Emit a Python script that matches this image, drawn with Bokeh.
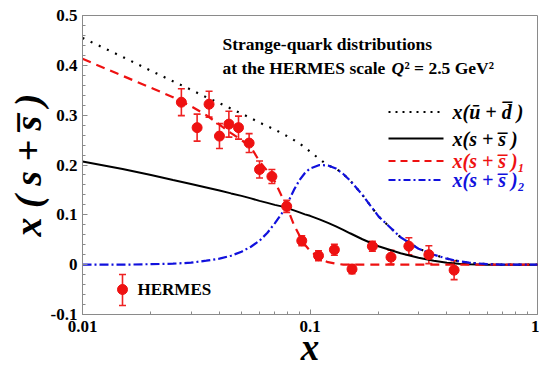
from bokeh.plotting import figure
from bokeh.models import (ColumnDataSource, Label, Whisker, TeeHead, FixedTicker,
                          Range1d)
from bokeh.embed import file_html
from bokeh.resources import INLINE
import math

# ---- model curves: x(ubar+dbar), x(s+sbar) and its two components ----
x_curve = [0.01, 0.015, 0.02, 0.025, 0.03, 0.035, 0.04, 0.045, 0.05, 0.055,
           0.06, 0.065, 0.07, 0.075, 0.08, 0.085, 0.09, 0.095, 0.1, 0.11,
           0.12, 0.13, 0.14, 0.15, 0.17, 0.2, 0.25, 0.3, 0.35, 0.4, 0.45,
           0.5, 0.6, 0.7, 0.8, 1.0]
ubar_dbar = [0.455, 0.417, 0.389, 0.368, 0.351, 0.336, 0.324, 0.313, 0.303, 0.294,
             0.285, 0.278, 0.271, 0.264, 0.257, 0.250, 0.243, 0.235, 0.227, 0.212,
             0.199, 0.193, 0.182, 0.169, 0.140, 0.097, 0.055, 0.032, 0.020, 0.012, 0.007,
             0.004, 0.001, 0.0, 0.0, 0.0]
s_total = [0.207, 0.192, 0.180, 0.170, 0.162, 0.155, 0.149, 0.143, 0.138, 0.133,
           0.128, 0.124, 0.120, 0.117, 0.113, 0.109, 0.105, 0.101, 0.098, 0.091,
           0.084, 0.077, 0.070, 0.063, 0.051, 0.037, 0.023, 0.014, 0.008, 0.004, 0.002,
           0.001, 0.0, 0.0, 0.0, 0.0]
s_comp1 = [0.413, 0.379, 0.355, 0.336, 0.318, 0.300, 0.281, 0.264, 0.250, 0.236,
           0.207, 0.188, 0.167, 0.138, 0.110, 0.080, 0.058, 0.040, 0.028, 0.013,
           0.005, 0.002, 0.0, 0.0, 0.0, 0.0, 0.0, 0.0, 0.0, 0.0, 0.0,
           0.0, 0.0, 0.0, 0.0, 0.0]
s_comp2 = [0.0, 0.0, 0.001, 0.002, 0.004, 0.008, 0.012, 0.018, 0.026, 0.036,
           0.048, 0.064, 0.083, 0.102, 0.125, 0.150, 0.170, 0.184, 0.193, 0.200,
           0.199, 0.193, 0.182, 0.169, 0.140, 0.097, 0.055, 0.032, 0.020, 0.012, 0.007,
           0.004, 0.001, 0.0, 0.0, 0.0]

# ---- HERMES data points ----
x_hermes = [0.0272, 0.0319, 0.0360, 0.0400, 0.0440, 0.0485, 0.0540, 0.0600,
            0.0680, 0.0790, 0.0920, 0.1090, 0.1280, 0.1530, 0.1880, 0.2270,
            0.2720, 0.3330, 0.4300]
y_hermes = [0.326, 0.275, 0.322, 0.258, 0.282, 0.275, 0.244, 0.191,
            0.177, 0.117, 0.048, 0.018, 0.030, -0.009, 0.037, 0.015,
            0.037, 0.020, -0.011]
err_hermes = [0.027, 0.027, 0.026, 0.025, 0.026, 0.023, 0.019, 0.017,
              0.014, 0.012, 0.010, 0.010, 0.011, 0.009, 0.010, 0.014,
              0.017, 0.018, 0.019]

y_ticks = [-0.1, 0.0, 0.1, 0.2, 0.3, 0.4, 0.5]
y_tick_labels = {-0.1: "-0.1", 0.0: "0", 0.1: "0.1", 0.2: "0.2",
                 0.3: "0.3", 0.4: "0.4", 0.5: "0.5"}
x_ticks = [0.01, 0.1, 1.0]
x_tick_labels = {0.01: "0.01", 0.1: "0.1", 1: "1"}

W, H = 539, 372
LEFT, RIGHT, TOP, BOTTOM = 82, 2, 15, 58
X0, X1, Y0, Y1 = 0.01, 1.0, -0.1, 0.5

SERIF = "Liberation Serif"
GRAY = "#8a8a8a"
RED = "#ee1111"
BLUE = "#1111dd"

p = figure(width=W, height=H, x_axis_type="log",
           x_range=Range1d(X0, X1), y_range=Range1d(Y0, Y1),
           output_backend="svg", toolbar_location=None,
           min_border_left=LEFT, min_border_right=RIGHT,
           min_border_top=TOP, min_border_bottom=BOTTOM)
p.xgrid.visible = False
p.ygrid.visible = False
p.outline_line_color = GRAY
p.outline_line_width = 1
p.background_fill_color = "white"
p.border_fill_color = "white"

fw = W - LEFT - RIGHT
fh = H - TOP - BOTTOM


def to_data(px, py):
    """Canvas pixel -> data coordinates (log x, linear y)."""
    lx = math.log10(X0) + (px - LEFT) / fw * (math.log10(X1) - math.log10(X0))
    y = Y1 - (py - TOP) / fh * (Y1 - Y0)
    return 10 ** lx, y


def to_screen(px, py):
    """Canvas pixel -> frame-relative screen units used by Label."""
    return px - LEFT, H - BOTTOM - py


# axes
for ax in (p.xaxis[0], p.yaxis[0]):
    ax.axis_line_color = GRAY
    ax.major_tick_line_color = GRAY
    ax.minor_tick_line_color = GRAY
    ax.major_tick_in = 5
    ax.major_tick_out = 0
    ax.minor_tick_in = 3
    ax.minor_tick_out = 0
    ax.major_label_text_font = SERIF
    ax.major_label_text_font_style = "bold"
    ax.major_label_text_font_size = "17px"
    ax.major_label_text_color = "black"
    ax.axis_label_text_font = SERIF
    ax.axis_label_text_font_style = "bold italic"
    ax.axis_label_text_color = "black"

p.yaxis.ticker = FixedTicker(ticks=y_ticks,
                             minor_ticks=[round(-0.1 + 0.02 * i, 2) for i in range(31)])
p.yaxis.major_label_overrides = y_tick_labels
p.yaxis.major_label_standoff = 5
p.yaxis.axis_label = "x ( s + s\u0305 )"
p.yaxis.axis_label_text_font_size = "38px"
p.yaxis.axis_label_standoff = -1

p.xaxis.ticker = FixedTicker(ticks=x_ticks,
                             minor_ticks=[k * 10.0 ** d for d in (-2, -1) for k in range(2, 10)])
p.xaxis.major_label_overrides = x_tick_labels
p.xaxis.major_label_standoff = 6
p.xaxis.axis_label = "x"
p.xaxis.axis_label_text_font_size = "37px"
p.xaxis.axis_label_standoff = -8

# curves
p.line(x_curve, ubar_dbar, line_color="black", line_width=2.2, line_dash="2 7")
p.line(x_curve, s_total, line_color="black", line_width=2)
p.line(x_curve, s_comp1, line_color=RED, line_width=2.2, line_dash="9 6")
p.line(x_curve, s_comp2, line_color=BLUE, line_width=2.2, line_dash="9 3 2 3")

# HERMES points with error bars
src = ColumnDataSource(dict(x=x_hermes, y=y_hermes,
                            lo=[y - e for y, e in zip(y_hermes, err_hermes)],
                            hi=[y + e for y, e in zip(y_hermes, err_hermes)]))


def error_bars(source):
    head = dict(size=7, line_color="#ee2222", line_width=1.6)
    p.add_layout(Whisker(source=source, base="x", lower="lo", upper="hi",
                         line_color="#ee2222", line_width=1.6,
                         lower_head=TeeHead(**head), upper_head=TeeHead(**head)))
    p.scatter("x", "y", source=source, size=10, color=RED)


error_bars(src)

# HERMES legend entry
hx, hy = to_data(122, 289)
_, hy_top = to_data(122, 274)
_, hy_bot = to_data(122, 305)
error_bars(ColumnDataSource(dict(x=[hx], y=[hy], lo=[hy_bot], hi=[hy_top])))
sx, sy = to_screen(137, 289)
p.add_layout(Label(x=sx, y=sy, x_units="screen", y_units="screen", text="HERMES",
                   text_font=SERIF, text_font_style="bold", text_font_size="17px",
                   text_baseline="middle", text_color="black"))

# curve legend
rows = [
    (111.5, "black", "2 5", "x(\u016b + d\u0305 )"),
    (138.0, "black", "solid", "x(s + s\u0305 )"),
    (160.5, RED, "7 5", "x(s + s\u0305 )\u2081"),
    (179.5, BLUE, "7 3 2 3", "x(s + s\u0305 )\u2082"),
]
for py, color, dash, text in rows:
    xa, ya = to_data(388, py)
    xb, _ = to_data(443, py)
    p.line([xa, xb], [ya, ya], line_color=color, line_width=2, line_dash=dash)
    sx, sy = to_screen(452, py)
    p.add_layout(Label(x=sx, y=sy, x_units="screen", y_units="screen", text=text,
                       text_font=SERIF, text_font_style="bold italic",
                       text_font_size="20px", text_baseline="middle",
                       text_color=color))

# title block
TITLE = dict(x_units="screen", y_units="screen", text_font=SERIF,
             text_font_size="17.5px", text_baseline="middle", text_color="black")
sx, sy = to_screen(222, 43)
p.add_layout(Label(x=sx, y=sy, text="Strange-quark distributions",
                   text_font_style="bold", **TITLE))
sx, sy = to_screen(222, 67)
p.add_layout(Label(x=sx, y=sy, text="at the HERMES scale",
                   text_font_style="bold", **TITLE))
sx, sy = to_screen(391, 67)
p.add_layout(Label(x=sx, y=sy, text="Q", text_font_style="bold italic", **TITLE))
sx, sy = to_screen(404, 67)
p.add_layout(Label(x=sx, y=sy, text="\u00b2 = 2.5 GeV\u00b2",
                   text_font_style="bold", **TITLE))

open("out.html", "w").write(file_html(p, INLINE))
